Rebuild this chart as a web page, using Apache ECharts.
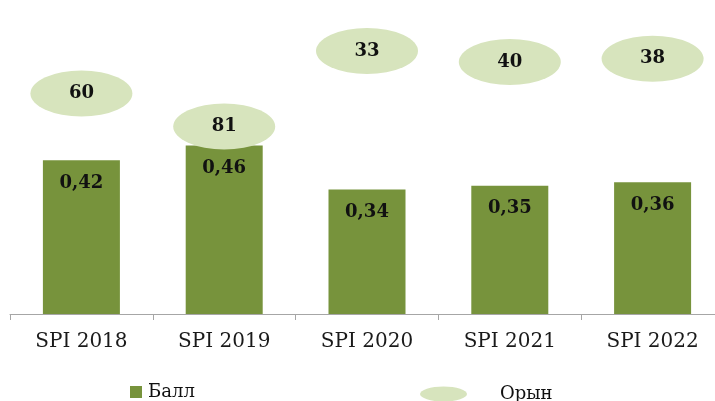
<!DOCTYPE html>
<html><head><meta charset="utf-8">
<script src="https://cdn.jsdelivr.net/npm/echarts@6/dist/echarts.min.js"></script>
<style>html,body{margin:0;padding:0;background:#fff;overflow:hidden}#c{width:740px;height:401px}</style>
</head><body><div id="c"></div>
<script>
const categories = ['SPI 2018', 'SPI 2019', 'SPI 2020', 'SPI 2021', 'SPI 2022'];
const scores = [0.42, 0.46, 0.34, 0.35, 0.36];
const ranks = [60, 81, 33, 40, 38];
const seriesNames = ['Балл', 'Орын'];

const ELLIPSE = 'path://M0,50 A100,50 0 1,1 200,50 A100,50 0 1,1 0,50 Z';
const FONT = 'DejaVu Serif';
const chart = echarts.init(document.getElementById('c'));
chart.setOption({
  animation: false,
  grid: { left: 10, top: 21, width: 714, height: 293, containLabel: false },
  xAxis: {
    type: 'category', data: categories,
    axisLine: { lineStyle: { color: '#a6a6a6', width: 1 } },
    axisTick: { show: true, length: 6, lineStyle: { color: '#a6a6a6' } },
    axisLabel: { fontFamily: FONT, fontSize: 20, color: '#1a1a1a', margin: 18 }
  },
  yAxis: [
    { type: 'value', min: 0, max: 0.8, show: false, splitLine: { show: false } },
    { type: 'value', min: 14, max: 200, inverse: true, show: false, splitLine: { show: false } }
  ],
  legend: [
    { data: [{ name: seriesNames[0], icon: 'rect' }], left: 125, top: 378, itemWidth: 12, itemHeight: 12,
      textStyle: { fontFamily: FONT, fontSize: 18, color: '#111', padding: [0, 0, 0, 1] } },
    { data: [{ name: seriesNames[1], icon: ELLIPSE }], left: 415, top: 380, itemWidth: 47, itemHeight: 15,
      symbolKeepAspect: false,
      textStyle: { fontFamily: FONT, fontSize: 18, color: '#111', padding: [8, 0, 0, 28] } }
  ],
  series: [
    { name: seriesNames[0], type: 'bar', data: scores, barWidth: 77,
      itemStyle: { color: '#77933c' },
      label: { show: true, position: 'insideTop', distance: 14, fontFamily: FONT, fontWeight: 'bold', fontSize: 18, color: '#111',
        formatter: p => String(p.value).replace('.', ',') } },
    { name: seriesNames[1], type: 'scatter', yAxisIndex: 1, data: ranks,
      symbol: ELLIPSE, symbolSize: [102, 46], symbolKeepAspect: false,
      itemStyle: { color: '#d7e4bd', opacity: 1 },
      label: { show: true, position: 'inside', fontFamily: FONT, fontWeight: 'bold', fontSize: 18, color: '#111' } }
  ]
});
</script></body></html>
